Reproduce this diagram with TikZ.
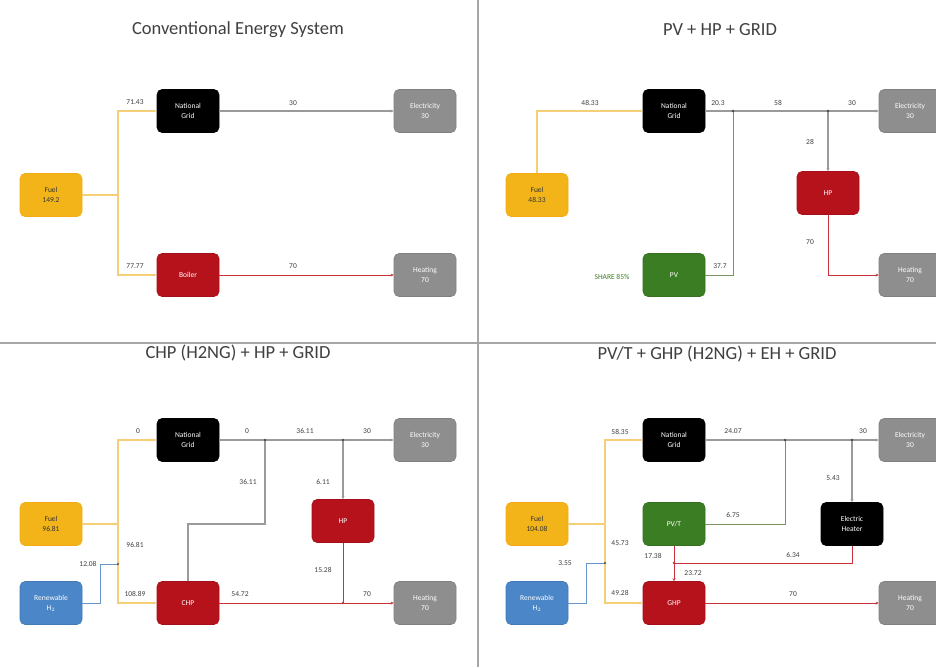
\documentclass[tikz,border=0pt]{standalone}
\usepackage{fontspec}
\setmainfont{Carlito}
\usetikzlibrary{arrows.meta}
\definecolor{fuelc}{HTML}{F2B418}
\definecolor{fuelln}{HTML}{F5CF78}
\definecolor{redc}{HTML}{B5121B}
\definecolor{grayc}{HTML}{8E8E8E}
\definecolor{pvc}{HTML}{3B7D23}
\definecolor{h2c}{HTML}{4A86C8}
\definecolor{elecln}{HTML}{9A9A9A}
\definecolor{heatln}{HTML}{C8323C}
\definecolor{pvln}{HTML}{7E9060}
\definecolor{h2ln}{HTML}{6A92CC}
\definecolor{lblc}{HTML}{404040}
\begin{document}
\begin{tikzpicture}[x=1pt,y=-1pt,
  box/.style={rounded corners=5pt, minimum width=62pt, minimum height=43pt, inner sep=1pt, align=center, font=\fontsize{7.5}{10}\selectfont, text=white, line width=0.6pt},
  fuelbox/.style={box, fill=fuelc, draw=fuelc!85!orange, text=black!80},
  gridbox/.style={box, fill=black, draw=black},
  redbox/.style={box, fill=redc, draw=redc!90!black},
  outbox/.style={box, fill=grayc, draw=grayc!90!black},
  pvbox/.style={box, fill=pvc, draw=pvc!90!black},
  htwobox/.style={box, fill=h2c, draw=h2c!90!black},
  lbl/.style={font=\fontsize{7.5}{9}\selectfont, text=lblc, inner sep=0.5pt},
  sharelbl/.style={lbl, text=pvc},
  ttl/.style={font=\fontsize{18.5}{22}\selectfont, text=black!75},
  tip/.style={-{Stealth[length=3pt,width=3pt]}},
  elec/.style={draw=elecln, line width=1.4pt},
  heat/.style={draw=heatln, line width=0.8pt},
  fuelline/.style={draw=fuelln, line width=1.1pt},
  pvline/.style={draw=pvln, line width=0.9pt},
  htwoline/.style={draw=h2ln, line width=0.9pt}
]
\useasboundingbox (0,0) rectangle (936,667);
\fill[white] (0,0) rectangle (936,667);
% dividers
\draw[black!35, line width=1.3pt] (478,0) -- (478,667);
\draw[black!35, line width=1.3pt] (0,343) -- (936,343);

% ---------- Q1 ----------
\node[ttl] (t1) at (238,30) {Conventional Energy System};
\node[fuelbox] (fuel1) at (51,195) {Fuel\\149.2};
\node[gridbox] (grid1) at (188,111) {National\\Grid};
\node[redbox] (boil1) at (188,275) {Boiler};
\node[outbox] (elec1) at (425,111) {Electricity\\30};
\node[outbox] (heat1) at (425,275) {Heating\\70};
\coordinate (j1) at (118,195);
\draw[fuelline] (fuel1.east) -- (j1);
\draw[fuelline,tip] (j1) |- (grid1.west);
\draw[fuelline,tip] (j1) |- (boil1.west);
\draw[elec,tip] (grid1) -- (elec1);
\draw[heat,tip] (boil1) -- (heat1);
\node[lbl] (l11) at (135,102) {71.43};
\node[lbl] (l12) at (135,266) {77.77};
\node[lbl] (l13) at (293,103) {30};
\node[lbl] (l14) at (293,266) {70};

% ---------- Q2 ----------
\node[ttl] (t2) at (720,30) {PV + HP + GRID};
\node[fuelbox] (fuel2) at (537,195) {Fuel\\48.33};
\node[gridbox] (grid2) at (674,111) {National\\Grid};
\node[pvbox] (pv2) at (674,275) {PV};
\node[redbox] (hp2) at (828,193) {HP};
\node[outbox] (elec2) at (910,111) {Electricity\\30};
\node[outbox] (heat2) at (910,275) {Heating\\70};
\coordinate (a2) at (733,111);
\coordinate (b2) at (828,111);
\draw[fuelline,tip] (fuel2.north) |- (grid2.west);
\draw[elec,tip] (grid2) -- (elec2);
\draw[pvline] (pv2.east) -| (a2);
\draw[elec,tip] (b2) -- (hp2.north);
\draw[heat,tip] (hp2.south) |- (heat2.west);
\fill[black!70] (a2) circle (1.3pt) (b2) circle (1.3pt);
\node[lbl] (l21) at (590,103) {48.33};
\node[lbl] (l22) at (718,103) {20.3};
\node[lbl] (l23) at (778,103) {58};
\node[lbl] (l24) at (852,103) {30};
\node[lbl] (l25) at (720,266) {37.7};
\node[lbl] (l26) at (810,142) {28};
\node[lbl] (l27) at (810,242) {70};
\node[sharelbl] (l28) at (612,277) {SHARE 85\%};

% ---------- Q3 ----------
\node[ttl] (t3) at (238,353) {CHP (H2NG) + HP + GRID};
\node[fuelbox] (fuel3) at (51,524) {Fuel\\96.81};
\node[htwobox] (h23) at (51,603) {Renewable\\H$_2$};
\node[gridbox] (grid3) at (188,440) {National\\Grid};
\node[redbox] (chp3) at (188,603) {CHP};
\node[redbox] (hp3) at (343,521) {HP};
\node[outbox] (elec3) at (425,440) {Electricity\\30};
\node[outbox] (heat3) at (425,603) {Heating\\70};
\coordinate (j3) at (118,524);
\coordinate (k3) at (118,564);
\coordinate (b3) at (100,603);
\coordinate (c3) at (265,524);
\coordinate (m3) at (265,440);
\coordinate (n3) at (343,440);
\coordinate (p3) at (343,603);
\draw[fuelline] (fuel3.east) -- (j3);
\draw[fuelline,tip] (j3) |- (grid3.west);
\draw[fuelline,tip] (j3) |- (chp3.west);
\draw[htwoline] (h23.east) -- (b3) |- (k3);
\draw[elec,tip] (grid3) -- (elec3);
\draw[elec] (chp3.north) |- (c3) -- (m3);
\draw[elec,tip] (n3) -- (hp3.north);
\draw[heat,tip] (chp3) -- (heat3);
\draw[heat] (hp3.south) -- (p3);
\fill[black!70] (k3) circle (1.2pt) (m3) circle (1.3pt) (n3) circle (1.3pt);
\fill[heatln] (p3) circle (1.3pt);
\node[lbl] (l31) at (138,431) {0};
\node[lbl] (l32) at (135,545) {96.81};
\node[lbl] (l33) at (88,564) {12.08};
\node[lbl] (l34) at (135,594) {108.89};
\node[lbl] (l35) at (247,431) {0};
\node[lbl] (l36) at (305,431) {36.11};
\node[lbl] (l37) at (367,431) {30};
\node[lbl] (l38) at (248,482) {36.11};
\node[lbl] (l39) at (323,482) {6.11};
\node[lbl] (l3a) at (323,570) {15.28};
\node[lbl] (l3b) at (240,594) {54.72};
\node[lbl] (l3c) at (367,594) {70};

% ---------- Q4 ----------
\node[ttl] (t4) at (717,354) {PV/T + GHP (H2NG) + EH + GRID};
\node[fuelbox] (fuel4) at (537,524) {Fuel\\104.08};
\node[htwobox] (h24) at (537,603) {Renewable\\H$_2$};
\node[gridbox] (grid4) at (674,440) {National\\Grid};
\node[pvbox] (pvt4) at (674,524) {PV/T};
\node[redbox] (ghp4) at (674,603) {GHP};
\node[gridbox] (eh4) at (852,524) {Electric\\Heater};
\node[outbox] (elec4) at (910,440) {Electricity\\30};
\node[outbox] (heat4) at (910,603) {Heating\\70};
\coordinate (j4) at (605,524);
\coordinate (k4) at (605,563);
\coordinate (b4) at (586,603);
\coordinate (q4) at (785,440);
\coordinate (r4) at (852,440);
\coordinate (s4) at (674,563);
\draw[fuelline] (fuel4.east) -- (j4);
\draw[fuelline,tip] (j4) |- (grid4.west);
\draw[fuelline,tip] (j4) |- (ghp4.west);
\draw[htwoline] (h24.east) -- (b4) |- (k4);
\draw[elec,tip] (grid4) -- (elec4);
\draw[pvline] (pvt4.east) -| (q4);
\draw[elec,tip] (r4) -- (eh4.north);
\draw[heat,tip] (pvt4.south) -- (ghp4.north);
\draw[heat] (eh4.south) |- (s4);
\draw[heat,tip] (ghp4) -- (heat4);
\fill[black!70] (k4) circle (1.2pt) (q4) circle (1.3pt) (r4) circle (1.3pt);
\fill[heatln] (s4) circle (1.3pt);
\node[lbl] (l41) at (620,432) {58.35};
\node[lbl] (l42) at (620,543) {45.73};
\node[lbl] (l43) at (565,563) {3.55};
\node[lbl] (l44) at (620,593) {49.28};
\node[lbl] (l45) at (733,431) {24.07};
\node[lbl] (l46) at (863,431) {30};
\node[lbl] (l47) at (733,515) {6.75};
\node[lbl] (l48) at (833,478) {5.43};
\node[lbl] (l49) at (793,555) {6.34};
\node[lbl] (l4a) at (653,556) {17.38};
\node[lbl] (l4b) at (693,573) {23.72};
\node[lbl] (l4c) at (793,594) {70};
\end{tikzpicture}
\end{document}
